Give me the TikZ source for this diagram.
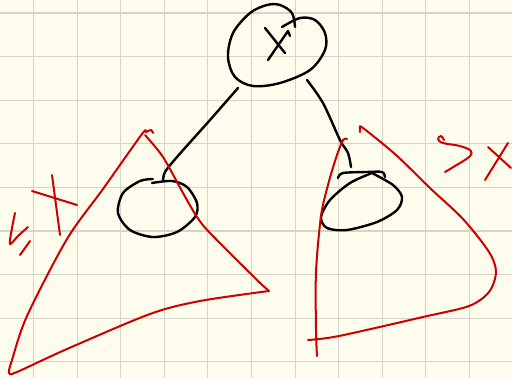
\documentclass[tikz,border=0pt]{standalone}
\begin{document}
\begin{tikzpicture}[x=1pt,y=-1pt,
  ink/.style={black,line width=2.4pt,line cap=round,line join=round},
  redink/.style={draw={rgb,255:red,204;green,0;blue,0},line width=2pt,line cap=round,line join=round},
  gridline/.style={draw={rgb,255:red,214;green,212;blue,200},line width=1.1pt}]
\fill[fill={rgb,255:red,254;green,252;blue,236}] (0,0) rectangle (512,378);
\useasboundingbox (0,0) rectangle (512,378);
% grid
\foreach \i in {0,...,10} {\draw[gridline] ({33.5+43.6*\i},0) -- ({33.5+43.6*\i},378);}
\foreach \j in {0,...,8} {\draw[gridline] (0,{13+43.6*\j}) -- (512,{13+43.6*\j});}
% root
\draw[ink] plot[smooth,tension=0.55] coordinates {(295,27) (292,13) (280,5) (267,5) (250,13) (233,33) (228,57) (235,77) (253,86) (280,83) (310,70) (325,50) (325,33) (315,20) (300,18) (282,27)};
\draw[ink] (265,28) -- (285,53);
\draw[ink] (268,60) -- (288,31) to[out=-60,in=100] (290,36);
% edges
\coordinate (rl) at (238,88);
\coordinate (rr) at (307,80);
\coordinate (cl) at (163,181);
\coordinate (cr) at (351,167);
\draw[ink] plot[smooth,tension=0.5] coordinates {(rl) (210,120) (177,157) (165,172) (cl)};
\draw[ink] plot[smooth,tension=0.5] coordinates {(rr) (323,103) (340,140) (348,153) (cr)};
% left child
\draw[ink] plot[smooth,tension=0.5] coordinates {(152,183) (172,181) (187,187) (197,203) (195,217) (177,232) (153,237) (130,230) (118,213) (123,193) (140,181) (153,179)};
% right child
\draw[ink] plot[smooth,tension=0.5] coordinates {(338,178) (343,173) (367,172) (382,172) (385,177)};
\draw[ink] plot[smooth,tension=0.5] coordinates {(372,173) (393,185) (402,197) (397,210) (377,222) (347,230) (327,228) (321,217) (330,200) (350,183) (372,173)};
% left red triangle
\draw[redink] plot[smooth,tension=0.5] coordinates {(153,133) (151,130) (146,132) (142,134) (103,189) (67,239) (27,316) (12,360) (9,373) (17,372) (67,349) (150,314) (200,301) (269,291)};
\draw[redink] plot[smooth,tension=0.5] coordinates {(269,291) (256,279) (210,233) (197,217) (183,193) (163,157) (145,135)};
% right red triangle
\draw[redink] plot[smooth,tension=0.5] coordinates {(347,139) (343,140) (336,158) (328,185) (321,216) (316,272) (316,330) (317,356)};
\draw[redink] plot[smooth,tension=0.5] coordinates {(308,340) (339,336) (423,317) (469,306) (489,292) (496,272) (489,252) (463,219) (431,189) (396,155) (363,128) (360,128) (360,132)};
% labels
\draw[redink] plot[smooth,tension=0.5] coordinates {(15,213) (12,228) (10,244) (18,236) (28,227)};
\draw[redink] (30,241) -- (20,255);
\draw[redink] plot[smooth,tension=0.5] coordinates {(52,175) (56,205) (60,235)};
\draw[redink] (32,191) -- (77,205);
\draw[redink] plot[smooth,tension=0.6] coordinates {(444,140) (441,136) (438,139) (443,143) (460,146) (471,151) (469,157) (455,166) (445,172)};
\draw[redink] (485,180) -- (508,143);
\draw[redink] (488,147) -- (511,168);
\end{tikzpicture}
\end{document}
